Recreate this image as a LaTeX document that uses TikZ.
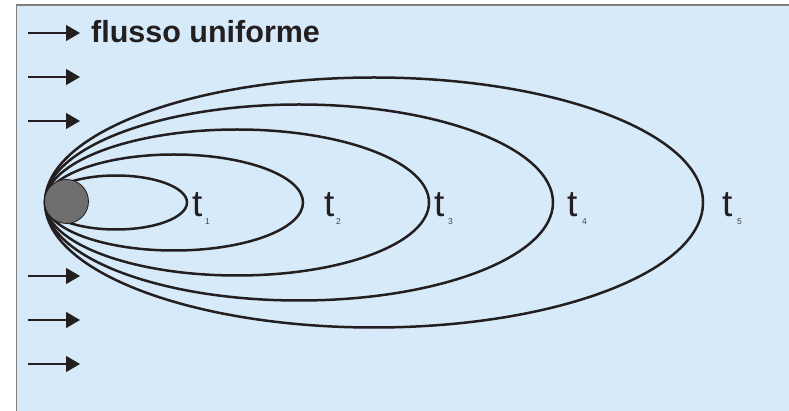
\documentclass[tikz,border=0pt]{standalone}
\usepackage{fontspec}
\setmainfont{Liberation Sans}
\usetikzlibrary{arrows.meta}
\definecolor{bg}{RGB}{214,234,249}
\definecolor{ink}{RGB}{35,31,32}
\definecolor{framegray}{RGB}{128,128,128}
\definecolor{ball}{RGB}{110,110,110}
\begin{document}
\begin{tikzpicture}[x=1pt,y=-1pt,
  front/.style={draw=ink,line width=2.5pt},
  flowarrow/.style={draw=ink,line width=1.3pt,-{Triangle[length=14pt,width=16pt]}},
  tlabel/.style={anchor=base west,inner sep=0pt,font=\fontsize{37}{37}\selectfont,text=ink},
  sublabel/.style={anchor=base west,inner sep=0pt,font=\fontsize{8.5}{8.5}\selectfont,text=ink!85}]
\useasboundingbox (0,0) rectangle (789,411);
\fill[bg] (16.5,5) rectangle (789,411);
\draw[framegray,line width=1.5pt] (16.5,411) -- (16.5,5) -- (789,5);
% arrows
\foreach \i/\y in {1/33,2/77,3/121,4/276,5/320,6/364}{
  \coordinate (as\i) at (28,\y);
  \coordinate (ae\i) at (80,\y);
  \draw[flowarrow] (as\i) -- (ae\i);
}
\node[anchor=base west,inner sep=0pt,font=\bfseries\fontsize{30.5}{30.5}\selectfont,text=ink] (title) at (91,43) {flusso uniforme};
% fronts
\foreach \n/\tip/\h in {1/187/27,2/303/48,3/429/73,4/553/98,5/703/125}{
  \draw[front] ({(45+\tip)/2},202.5) ellipse [x radius={(\tip-45)/2*1pt}, y radius={\h*1pt}];
}
\node[circle,draw=ink,line width=0.8pt,fill=ball,minimum size=44pt,inner sep=0pt] (cyl) at (66.5,201.5) {};
% labels
\node[tlabel] (t1) at (192,217) {t};
\node[sublabel] (s1) at (205,225) {1};
\node[tlabel] (t2) at (324,217) {t};
\node[sublabel] (s2) at (336,225) {2};
\node[tlabel] (t3) at (434,217) {t};
\node[sublabel] (s3) at (448,225) {3};
\node[tlabel] (t4) at (567,217) {t};
\node[sublabel] (s4) at (582,225) {4};
\node[tlabel] (t5) at (722,217) {t};
\node[sublabel] (s5) at (737,225) {5};
\end{tikzpicture}
\end{document}
